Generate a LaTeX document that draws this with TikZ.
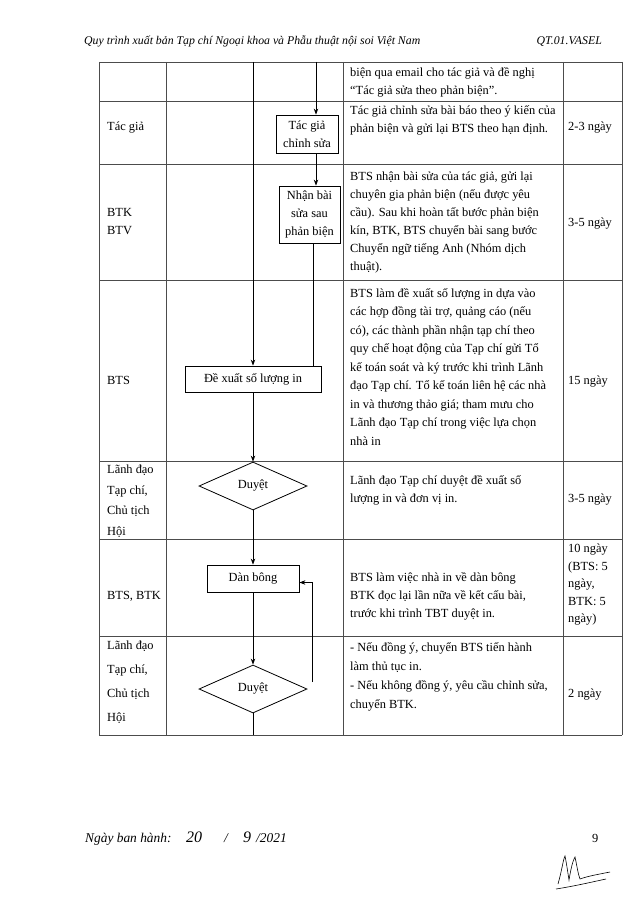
\documentclass[tikz,border=0pt]{standalone}
\usepackage{fontspec}
\setmainfont{Liberation Serif}
\usetikzlibrary{arrows.meta,shapes.geometric,positioning}
\newcommand\bodyfont{\fontsize{12.4}{18}\selectfont}
\begin{document}
\begin{tikzpicture}
    [x=1pt, y=-1pt, font=\bodyfont,
     rule/.style={draw=black!70, line width=0.7pt},
     flow/.style={draw, line width=0.9pt},
     arr/.style={flow, -{Stealth[length=6pt, width=4.5pt]}},
     box/.style={draw, line width=0.8pt, align=center, inner sep=2pt},
     decide/.style={draw, diamond, aspect=2.5, inner sep=0pt, line width=0.8pt,
                    minimum width=108pt, minimum height=48pt},
     cell/.style={anchor=north west, inner sep=0pt, align=left},
     word/.style={anchor=base west, inner sep=0pt},
     head/.style={font=\fontsize{11.8}{18}\selectfont\itshape},
     foot/.style={font=\fontsize{13.4}{18}\selectfont\itshape}]
  \useasboundingbox (0,0) rectangle (644,901);

  % header
  \node[word, head] (title) at (84,45) {Quy trình xuất bản Tạp chí Ngoại khoa và Phẫu thuật nội soi Việt Nam};
  \node[anchor=base east, inner sep=0pt, head] (code) at (602,45) {QT.01.VASEL};

  % table
  \foreach \y in {62,101,164,280,461,539,636,735}
    \draw[rule] (99,\y) -- (622,\y);
  \foreach \x in {99,166,343,563,622}
    \draw[rule] (\x,62) -- (\x,735);

  % who
  \node[word] (w2) at (107,131) {Tác giả};
  \node[cell] (w3) at (107,203.4) {\strut BTK\\BTV};
  \node[word] (w4) at (107,384) {BTS};
  \node[cell, font=\fontsize{12.4}{20.5}\selectfont] (w5) at (107,459) {\strut Lãnh đạo\\Tạp chí,\\Chủ tịch\\Hội};
  \node[word] (w6) at (107,599) {BTS, BTK};
  \node[cell, font=\fontsize{12.4}{24}\selectfont] (w7) at (107,632.2) {\strut Lãnh đạo\\Tạp chí,\\Chủ tịch\\Hội};

  % flow
  \node[box, minimum width=62pt, minimum height=38pt] (edit) at (307,134) {Tác giả\\chỉnh sửa};
  \node[box, minimum width=61pt, minimum height=57pt] (recv) at (309.5,214.5) {Nhận bài\\sửa sau\\phản biện};
  \node[box, minimum width=136pt, minimum height=26pt] (prop) at (253,379) {Đề xuất số lượng in};
  \node[decide] (ok1) at (253,486) {Duyệt};
  \node[box, minimum width=92pt, minimum height=27pt] (lay) at (253,578.5) {Dàn bông};
  \node[decide] (ok2) at (253,689) {Duyệt};

  \coordinate (inA) at (253,62);
  \coordinate (inB) at (316,62);
  \coordinate (back) at (312,682);
  \coordinate (out) at (253,735);
  \draw[arr] (inA) -- (prop.north);
  \draw[arr] (inB) -- (inB |- edit.north);
  \draw[arr] (edit.south -| inB) -- (inB |- recv.north);
  \draw[flow] ([xshift=3.5pt]recv.south) -- ([xshift=3.5pt]recv.south |- prop.north);
  \draw[arr] (prop) -- (ok1);
  \draw[arr] (ok1) -- (lay);
  \draw[arr] (lay) -- (ok2);
  \draw[arr] (back) |- ([yshift=-4pt]lay.east);
  \draw[flow] (ok2) -- (out);

  % what
  \node[cell] (d1) at (350,64) {\strut biện qua email cho tác giả và đề nghị\\“Tác giả sửa theo phản biện”.};
  \node[cell] (d2) at (350,101.4) {\strut Tác giả chỉnh sửa bài báo theo ý kiến của\\phản biện và gửi lại BTS theo hạn định.};
  \node[cell] (d3) at (350,167.4) {\strut BTS nhận bài sửa của tác giả, gửi lại\\chuyên gia phản biện (nếu được yêu\\cầu). Sau khi hoàn tất bước phản biện\\kín, BTK, BTS chuyển bài sang bước\\Chuyển ngữ tiếng Anh (Nhóm dịch\\thuật).};
  \node[cell, font=\fontsize{12.4}{18.5}\selectfont] (d4) at (350,284) {\strut BTS làm đề xuất số lượng in dựa vào\\các hợp đồng tài trợ, quảng cáo (nếu\\có), các thành phần nhận tạp chí theo\\quy chế hoạt động của Tạp chí gửi Tổ\\kế toán soát và ký trước khi trình Lãnh\\đạo Tạp chí. Tổ kế toán liên hệ các nhà\\in và thương thảo giá; tham mưu cho\\Lãnh đạo Tạp chí trong việc lựa chọn\\nhà in};
  \node[cell] (d5) at (350,471.4) {\strut Lãnh đạo Tạp chí duyệt đề xuất số\\lượng in và đơn vị in.};
  \node[cell] (d6) at (350,568.4) {\strut BTS làm việc nhà in về dàn bông\\BTK đọc lại lần nữa về kết cấu bài,\\trước khi trình TBT duyệt in.};
  \node[cell, font=\fontsize{12.4}{19}\selectfont] (d7) at (350,637.7) {\strut - Nếu đồng ý, chuyển BTS tiến hành\\làm thủ tục in.\\- Nếu không đồng ý, yêu cầu chỉnh sửa,\\chuyển BTK.};

  % time
  \node[word] (t2) at (568,131) {2-3 ngày};
  \node[word] (t3) at (568,226) {3-5 ngày};
  \node[word] (t4) at (568,384) {15 ngày};
  \node[word] (t5) at (568,502) {3-5 ngày};
  \node[cell, font=\fontsize{12.4}{17.5}\selectfont] (t6) at (568,540.5) {\strut 10 ngày\\(BTS: 5\\ngày,\\BTK: 5\\ngày)};
  \node[word] (t7) at (568,697) {2 ngày};

  % footer
  \node[word, foot] (issued) at (85,842) {Ngày ban hành:};
  \node[word, font=\fontsize{16}{18}\selectfont\itshape] (dd) at (186,842) {20};
  \node[word, foot] (s1) at (224,842) {/};
  \node[word, font=\fontsize{16}{18}\selectfont\itshape] (mm) at (243,842) {9};
  \node[word, foot] (yy) at (256,842) {/2021};
  \node[word] (page) at (592,842) {9};
  \draw[line width=0.6pt] (558,884) .. controls (562,870) and (563,860) .. (565,856)
    .. controls (567,866) and (568,874) .. (569,880) .. controls (571,868) and (573,860) .. (575,857)
    .. controls (577,866) and (578,874) .. (580,879) .. controls (588,876) and (600,874) .. (610,872);
  \draw[line width=0.6pt] (556,889) .. controls (575,886) and (592,882) .. (606,879);
\end{tikzpicture}
\end{document}
